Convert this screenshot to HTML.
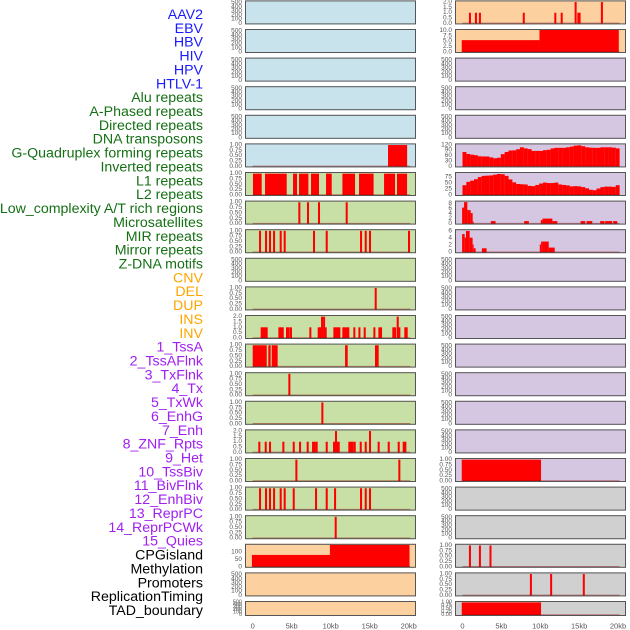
<!DOCTYPE html>
<html><head><meta charset="utf-8">
<style>
html,body{margin:0;padding:0;background:#fff;}
svg{display:block;}
</style></head>
<body>
<svg id="chart" width="630" height="630" viewBox="0 0 630 630" xmlns="http://www.w3.org/2000/svg" font-family="Liberation Sans, sans-serif">
<g id="labels" font-size="14.2" text-anchor="end" dominant-baseline="central"></g>
<g id="panels"></g>
</svg>
<script>
// ---------- data ----------
const trackNames = ["AAV2","EBV","HBV","HIV","HPV","HTLV-1","Alu repeats","A-Phased repeats","Directed repeats","DNA transposons","G-Quadruplex forming repeats","Inverted repeats","L1 repeats","L2 repeats","Low_complexity A/T rich regions","Microsatellites","MIR repeats","Mirror repeats","Z-DNA motifs","CNV","DEL","DUP","INS","INV","1_TssA","2_TssAFlnk","3_TxFlnk","4_Tx","5_TxWk","6_EnhG","7_Enh","8_ZNF_Rpts","9_Het","10_TssBiv","11_BivFlnk","12_EnhBiv","13_ReprPC","14_ReprPCWk","15_Quies","CPGisland","Methylation","Promoters","ReplicationTiming","TAD_boundary"];
const labelColors = {virus:"#1a1aff",repeat:"#157015",sv:"#ffa500",chrom:"#a020f0",other:"#000000"};
const tickKb = [0,5,10,15,20];
const tickKbLabels = ["0","5kb","10kb","15kb","20kb"];

// left column block/bar series [startKb, endKb, value]
const gquadBlocks = [[17.35,19.8,1]];
const aluBlocks = [[0.04,1.15,1],[1.58,4.36,1],[5.17,5.68,1],[5.94,7.14,1],[7.48,8.5,1],[9.4,10.13,1],[11.5,13.12,1],[13.63,15.5,1],[16.84,18.25,1],[18.5,19.79,1]];
const aphasedLines = [5.98,7.09,8.5,12.05];
const directedLines = [0.94,1.71,2.22,2.74,3.59,4.1,7.86,9.49,13.89,14.49,15.04,20.04];
const gquadLines = [15.77];
const invertedPos = [1.15,1.37,1.58,1.79,3.42,3.63,3.85,4.40,4.62,4.91,7.39,8.46,8.63,8.89,9.15,9.36,10.47,10.68,10.9,11.11,11.62,11.84,12.09,12.26,13.03,13.68,14.36,15.6,16.24,16.45,18.03,18.25,18.59,18.8,19.57,19.74];
const invertedVal = [1,1,1,1,1,1,1,1,1,1,1,1,1,2,2,1,1,1,1,1,1,1,1,1,1,1,1,1,1,1,1,1,2,1,1,1];
const l1Blocks = [[0,1.8,1],[2.0,2.3,1],[2.44,3.2,1],[11.84,12.18,1],[15.68,16.15,1]];
const l2Lines = [4.7];
const lowCompLines = [8.93];
const microPos = [0.85,1.67,2.22,3.93,5.26,6.07,7.05,7.74,7.95,8.2,9.49,10.43,10.68,10.85,11.03,12.39,12.61,12.82,13.08,13.85,14.49,15.04,16.15,17.44,18.72,19.36,19.57];
const microVal = [1,1,1,1,1,1,1,1,1,1,1,1,2,1,1,1,1,1,1,1,1,2,1,1,1,1,1];
const mirLines = [5.6,18.8];
const mirrorLines = [0.94,1.71,2.22,2.74,3.59,4.1,5.26,8.12,9.49,10.56,13.89,14.49,15.04];
const zdnaLines = [10.64];
const cnvBlocks = [[-0.1,20.1,81],[9.9,20.1,150]];

// right column
const insPos = [0.96,1.73,2.24,7.88,11.94,12.76,14.55,14.9,15.06,17.93];
const insVal = [1,1,1,1,1,1,2,1,1,2];
const invBlocks = [[-0.1,9.9,5.5],[9.9,20.1,10.2]];
const tssaSeries = [80,69,65,62,56,55,55,50,45,48,68,80,88,89,95,106,100,96,86,86,86,90,92,100,103,103,103,106,110,115,117,112,106,104,103,103,106,106,106,104,100];
const tssaFlnkSeries = [41,55,60,66,75,80,81,82,85,88,87,80,65,53,46,45,44,38,37,42,48,52,50,50,52,44,42,40,36,37,36,33,28,22,20,27,33,35,35,34,41];
const txFlnkBlocks = [[-0.05,0.2,6.4],[0.2,0.62,8.6],[0.62,1.05,5.4],[1.05,1.31,4.2],[1.31,1.44,0.8],[3.65,4.25,1],[7.93,8.53,1],[10.07,10.28,1.4],[10.28,11.56,2],[11.56,12.2,1],[15.19,15.79,1],[15.96,16.69,1],[17.71,18.27,1],[18.35,19.25,1],[19.38,19.9,1]];
const txBlocks = [[-0.05,0.28,5.1],[0.28,0.45,4.1],[0.45,0.92,6],[0.92,1.3,4.1],[1.3,1.43,2.2],[1.43,1.69,1.1],[2.5,3.1,1.1],[9.94,10.11,2.2],[10.11,10.28,3],[10.28,11.09,3],[11.09,11.86,1.3]];
const tssBivBlocks = [[-0.1,10.1,1]];
const methylLines = [0.96,2.24,3.6];
const promoterLines = [8.8,11.4,15.6];
const tadBlocks = [[-0.1,10.1,1]];

// ---------- geometry ----------
const cols = [{px0:245,px1:416,x0:252.7,x20:408.7,tickX:242},{px0:455,px1:626,x0:462.5,x20:618,tickX:452}];
function xScale(c,kb){return cols[c].x0 + (cols[c].x20-cols[c].x0)*kb/20;}
function rowTop(r){return 0.4 + 28.6*r;}
function rowH(r){return r===21?15:24;}
const BG = {blue:"#c8e3eb",green:"#c8e0a5",orange:"#fdd0a0",purple:"#d5c6e1",grey:"#d0d0d0"};
const empty500 = {max:530,ticks:[0,100,200,300,400,500],fmt:0};
const p1 = {max:1.03,ticks:[0,0.25,0.5,0.75,1],fmt:2};
const p2 = {max:2.06,ticks:[0,0.5,1,1.5,2],fmt:1};

function lines(arr,val){return arr.map(k=>[k-0.13,k+0.13,val||1]);}
function pos2(arr,vals){return arr.map((k,i)=>[k-0.13,k+0.13,vals[i]]);}
function series(vals){const w=20.2/vals.length;return vals.map((v,i)=>[i*w,(i+1)*w+0.01,v]);}

const panels = [
 {c:0,r:0,bg:"blue",ax:empty500},
 {c:0,r:1,bg:"blue",ax:empty500},
 {c:0,r:2,bg:"blue",ax:empty500},
 {c:0,r:3,bg:"blue",ax:empty500},
 {c:0,r:4,bg:"blue",ax:empty500},
 {c:0,r:5,bg:"blue",ax:p1,bars:gquadBlocks},
 {c:0,r:6,bg:"green",ax:p1,bars:aluBlocks},
 {c:0,r:7,bg:"green",ax:p1,bars:lines(aphasedLines)},
 {c:0,r:8,bg:"green",ax:p1,bars:lines(directedLines)},
 {c:0,r:9,bg:"green",ax:empty500},
 {c:0,r:10,bg:"green",ax:p1,bars:lines(gquadLines)},
 {c:0,r:11,bg:"green",ax:p2,bars:pos2(invertedPos,invertedVal)},
 {c:0,r:12,bg:"green",ax:p1,bars:l1Blocks},
 {c:0,r:13,bg:"green",ax:p1,bars:lines(l2Lines,1)},
 {c:0,r:14,bg:"green",ax:p1,bars:lines(lowCompLines)},
 {c:0,r:15,bg:"green",ax:p2,bars:pos2(microPos,microVal)},
 {c:0,r:16,bg:"green",ax:p1,bars:lines(mirLines)},
 {c:0,r:17,bg:"green",ax:p1,bars:lines(mirrorLines)},
 {c:0,r:18,bg:"green",ax:p1,bars:lines(zdnaLines)},
 {c:0,r:19,bg:"orange",ax:{max:150,ticks:[0,50,100],fmt:0},bars:cnvBlocks},
 {c:0,r:20,bg:"orange",ax:empty500},
 {c:0,r:21,bg:"orange",ax:empty500},
 {c:1,r:0,bg:"orange",ax:p2,bars:pos2(insPos,insVal)},
 {c:1,r:1,bg:"orange",ax:{max:10.2,ticks:[0,2.5,5,7.5,10],fmt:1},bars:invBlocks},
 {c:1,r:2,bg:"purple",ax:empty500},
 {c:1,r:3,bg:"purple",ax:empty500},
 {c:1,r:4,bg:"purple",ax:empty500},
 {c:1,r:5,bg:"purple",ax:{max:122,ticks:[0,30,60,90,120],fmt:0},bars:series(tssaSeries)},
 {c:1,r:6,bg:"purple",ax:{max:92,ticks:[0,25,50,75],fmt:0},bars:series(tssaFlnkSeries)},
 {c:1,r:7,bg:"purple",ax:{max:8.8,ticks:[0,2,4,6,8],fmt:0},bars:txFlnkBlocks},
 {c:1,r:8,bg:"purple",ax:{max:6.2,ticks:[0,2,4,6],fmt:0},bars:txBlocks},
 {c:1,r:9,bg:"purple",ax:empty500},
 {c:1,r:10,bg:"purple",ax:empty500},
 {c:1,r:11,bg:"purple",ax:empty500},
 {c:1,r:12,bg:"purple",ax:empty500},
 {c:1,r:13,bg:"purple",ax:empty500},
 {c:1,r:14,bg:"purple",ax:empty500},
 {c:1,r:15,bg:"purple",ax:empty500},
 {c:1,r:16,bg:"purple",ax:p1,bars:tssBivBlocks},
 {c:1,r:17,bg:"grey",ax:empty500},
 {c:1,r:18,bg:"grey",ax:empty500},
 {c:1,r:19,bg:"grey",ax:p1,bars:lines(methylLines)},
 {c:1,r:20,bg:"grey",ax:p1,bars:lines(promoterLines)},
 {c:1,r:21,bg:"grey",ax:p1,bars:tadBlocks}
];

const NS="http://www.w3.org/2000/svg";
function mk(tag,attrs,parent){const e=document.createElementNS(NS,tag);for(const k in attrs)e.setAttribute(k,attrs[k]);parent.appendChild(e);return e;}

const lg=document.getElementById('labels');
trackNames.forEach((n,i)=>{
  let col = i<6?labelColors.virus : i<19?labelColors.repeat : i<24?labelColors.sv : i<39?labelColors.chrom : labelColors.other;
  const t=mk('text',{x:203,y:(15+13.86*i).toFixed(1),fill:col},lg);
  
  
  t.textContent=n;
});

const pg=document.getElementById('panels');
panels.forEach(p=>{
  const c=cols[p.c], top=rowTop(p.r), h=rowH(p.r);
  const g=mk('g',{},pg);
  
  
  mk('rect',{x:c.px0,y:top,width:c.px1-c.px0,height:h,fill:BG[p.bg]},g);
  const y0=top+h-1, span=h-2;
  const yS=v=>y0 - span*v/p.ax.max;
  const fs = p.r===21?5.5:6.5;
  p.ax.ticks.forEach(tv=>{
    const t=mk('text',{x:c.tickX,y:yS(tv).toFixed(1),'font-size':fs,fill:'#555','text-anchor':'end','dominant-baseline':'central'},g);
    
    
    t.textContent=tv.toFixed(p.ax.fmt);
  });
  if(p.bars){
    p.bars.forEach(b=>{
      const x1=xScale(p.c,b[0]), x2=xScale(p.c,b[1]);
      const yv=Math.max(yS(b[2]),top+0.5);
      const r=mk('rect',{x:x1.toFixed(2),y:yv.toFixed(2),width:Math.max(x2-x1,1).toFixed(2),height:(y0-yv+0.5).toFixed(2),fill:'#ff0000'},g);
      
      
    });
    const bl=mk('line',{x1:xScale(p.c,0),x2:xScale(p.c,20.2),y1:y0,y2:y0,stroke:'rgba(150,0,0,0.45)','stroke-width':1.5},g);
    
    
  }
  mk('rect',{x:c.px0+0.5,y:top+0.5,width:c.px1-c.px0-1,height:h-1,fill:'none',stroke:'#555','stroke-width':1},g);
});

[0,1].forEach(ci=>{
  const g=mk('g',{},pg);
  
  
  tickKb.forEach((k,i)=>{
    const x=xScale(ci,k);
    const t=mk('text',{x:x,y:626,'font-size':7.5,fill:'#555','text-anchor':'middle','dominant-baseline':'central'},g);
    
    
    t.textContent=tickKbLabels[i];
  });
});
</script>
</body></html>
